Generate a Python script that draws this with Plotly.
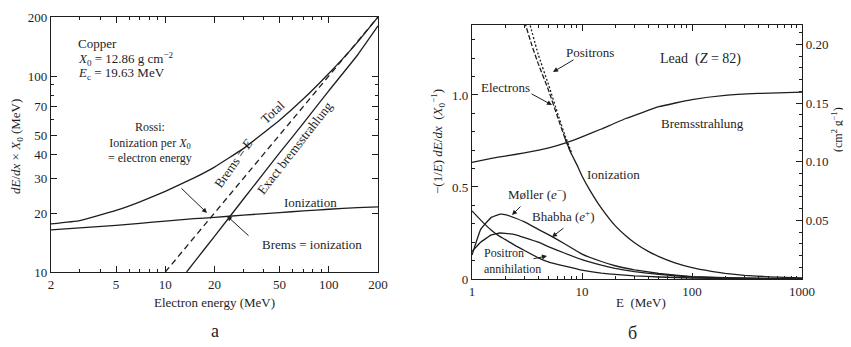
import plotly.graph_objects as go
import math

W, H = 851, 347
OFF = 8                     # page body margin of the browser
FW, FH = W - OFF, H - OFF   # figure size so that it fills the window exactly

# ---------------- Panel a: Copper ----------------
cu_energy = [2, 3, 5, 7, 10, 15, 20, 30, 50, 70, 100, 150, 200]
cu_ionization = [16.4, 16.8, 17.3, 17.7, 18.2, 18.7, 19.0, 19.5, 20.1, 20.5, 20.9, 21.3, 21.5]
cu_total = [17.6, 18.3, 20.6, 22.8, 25.8, 30.2, 34.3, 42.6, 59.5, 76.5, 103, 149, 200]
cu_exact_energy = [13.5, 15, 20, 30, 50, 70, 100, 150, 200]
cu_exact_brems = [10, 11.2, 15.2, 23.5, 40.5, 57.5, 84, 128, 180]
cu_bremsE_energy = [10, 200]
cu_bremsE = [10, 200]

cu_xticks = [2, 5, 10, 20, 50, 100, 200]
cu_yticks = [10, 20, 30, 40, 50, 70, 100, 200]

# ---------------- Panel б: Lead ----------------
pb_brems_energy = [1, 1.5, 2, 3, 5, 7, 10, 15, 25, 50, 100, 200, 400, 1000]
pb_brems = [0.634, 0.655, 0.668, 0.685, 0.712, 0.738, 0.772, 0.815, 0.872, 0.936, 0.975,
            0.998, 1.008, 1.015]

pb_ion_e_energy = [3.0, 3.5, 4, 5, 6, 7, 8]
pb_ion_e = [1.40, 1.27, 1.17, 1.02, 0.88, 0.765, 0.68]
pb_ion_p_energy = [3.3, 4, 5, 6, 7, 8]
pb_ion_p = [1.40, 1.22, 1.05, 0.90, 0.78, 0.69]

pb_ion_energy = [7, 8, 9, 10, 12, 15, 20, 25, 30, 40, 50, 70, 100, 150, 200, 300, 500, 700, 1000]
pb_ion = [0.765, 0.68, 0.62, 0.56, 0.475, 0.385, 0.29, 0.235, 0.197, 0.15, 0.122, 0.088,
          0.062, 0.042, 0.031, 0.02, 0.012, 0.0085, 0.006]

pb_low_energy = [1.0, 1.2, 1.5, 1.8, 2.0, 2.5, 3, 4, 5, 7, 10, 15, 20, 30, 50, 100, 200, 500, 1000]
pb_moller = [0.13, 0.27, 0.335, 0.352, 0.35, 0.33, 0.31, 0.27, 0.24, 0.19, 0.135, 0.095, 0.072,
             0.05, 0.03, 0.013, 0.007, 0.003, 0.0015]
pb_bhabha = [0.15, 0.2, 0.24, 0.25, 0.248, 0.24, 0.225, 0.2, 0.175, 0.14, 0.105, 0.075, 0.058,
             0.04, 0.025, 0.011, 0.006, 0.0025, 0.0012]
pb_annihil = [0.37, 0.32, 0.265, 0.23, 0.215, 0.18, 0.155, 0.115, 0.092, 0.07, 0.048, 0.032,
              0.025, 0.017, 0.011, 0.0055, 0.003, 0.0012, 0.0006]

pb_xticks = [1, 10, 100, 1000]
pb_yticks = [0, 0.5, 1.0]
pb_yticks_text = ["0", "0.5", "1.0"]
pb_y2ticks = [0.05, 0.10, 0.15, 0.20]
pb_y2ticks_text = ["0.05", "0.10", "0.15", "0.20"]
PB_X0 = 6.37  # g cm^-2, conversion between the two right-panel scales

# ---------------- styling ----------------
INK = "#1e1e1e"
FONT = "Times New Roman, Liberation Serif, DejaVu Serif, serif"
LW = 1.3


def paper(x, y):
    """page pixel position -> paper fraction of the figure"""
    return (x - OFF) / FW, 1 - (y - OFF) / FH


def log_minor(lo, hi, majors):
    vals = []
    d = 10 ** math.floor(math.log10(lo))
    while d <= hi:
        for k in range(1, 10):
            v = k * d
            if lo <= v <= hi and not any(abs(v - m) < 1e-9 for m in majors):
                vals.append(v)
        d *= 10
    return vals


fig = go.Figure()


def line(x, y, xa, ya, dash="solid", width=LW, color=INK):
    fig.add_trace(go.Scatter(x=x, y=y, xaxis=xa, yaxis=ya, mode="lines",
                             line=dict(color=color, width=width, dash=dash, shape="spline", smoothing=0.3),
                             showlegend=False, hoverinfo="skip"))


# Copper traces
line(cu_energy, cu_ionization, "x", "y")
line(cu_energy, cu_total, "x", "y")
line(cu_exact_energy, cu_exact_brems, "x", "y")
line(cu_bremsE_energy, cu_bremsE, "x", "y", dash="6px,4px")

# Lead traces
line(pb_brems_energy, pb_brems, "x2", "y2")
line(pb_ion_energy, pb_ion, "x2", "y2")
line(pb_ion_e_energy, pb_ion_e, "x2", "y2", dash="5px,2px")
line(pb_ion_p_energy, pb_ion_p, "x2", "y2", dash="2px,2px")
line(pb_low_energy, pb_moller, "x2", "y2")
line(pb_low_energy, pb_bhabha, "x2", "y2")
line(pb_low_energy, pb_annihil, "x2", "y2")

tickfont = dict(family=FONT, size=13, color=INK)
common = dict(showgrid=False, zeroline=False, showline=True, linecolor=INK, linewidth=1.2,
              ticks="inside", ticklen=6, tickcolor=INK, tickwidth=1, tickfont=tickfont,
              automargin=False)

L = dict(x0=51, x1=378, y0=17, y1=272)
R = dict(x0=472, x1=802, y0=25, y1=279)


def xdom(b):
    return [paper(b["x0"], 0)[0], paper(b["x1"], 0)[0]]


def ydom(b):
    return [paper(0, b["y1"])[1], paper(0, b["y0"])[1]]


fig.update_layout(
    width=FW, height=FH, margin=dict(l=0, r=0, t=0, b=0, pad=0), autosize=False,
    paper_bgcolor="white", plot_bgcolor="white",
    font=dict(family=FONT, color=INK),
    xaxis=dict(common, type="log", range=[math.log10(2), math.log10(200)],
               domain=xdom(L), anchor="y", mirror="ticks",
               tickvals=cu_xticks, ticktext=[str(v) for v in cu_xticks],
               minor=dict(ticks="inside", ticklen=3, tickcolor=INK,
                          tickvals=log_minor(2, 200, cu_xticks))),
    yaxis=dict(common, type="log", range=[1, math.log10(200)],
               domain=ydom(L), anchor="x", mirror="ticks",
               tickvals=cu_yticks, ticktext=[str(v) for v in cu_yticks],
               minor=dict(ticks="inside", ticklen=3, tickcolor=INK,
                          tickvals=log_minor(10, 200, cu_yticks))),
    xaxis2=dict(common, type="log", range=[0, 3],
                domain=xdom(R), anchor="y2", mirror="ticks",
                tickvals=pb_xticks, ticktext=[str(v) for v in pb_xticks],
                minor=dict(ticks="inside", ticklen=3, tickcolor=INK,
                           tickvals=log_minor(1, 1000, pb_xticks))),
    yaxis2=dict(common, range=[0, 1.38],
                domain=ydom(R), anchor="x2", mirror=False,
                tickvals=pb_yticks, ticktext=pb_yticks_text,
                minor=dict(ticks="inside", ticklen=3, tickcolor=INK, dtick=0.1, tick0=0)),
    yaxis3=dict(common, range=[0, 1.38 / PB_X0], overlaying="y2", side="right", anchor="x2",
                tickvals=pb_y2ticks, ticktext=pb_y2ticks_text,
                minor=dict(ticks="inside", ticklen=3, tickcolor=INK, dtick=0.01, tick0=0)),
)

# invisible trace to activate yaxis3
fig.add_trace(go.Scatter(x=[1], y=[0], xaxis="x2", yaxis="y3", mode="markers",
                         marker=dict(opacity=0), showlegend=False, hoverinfo="skip"))

ann = []


def text(t, x, y, size=12, angle=0, xanchor="center", align="center"):
    px, py = paper(x, y)
    ann.append(dict(text=t, x=px, y=py, xref="paper", yref="paper", showarrow=False,
                    textangle=angle, xanchor=xanchor, yanchor="middle", align=align,
                    font=dict(family=FONT, size=size, color=INK)))


def arrow(tail, head):
    hx, hy = paper(*head)
    ann.append(dict(text="", x=hx, y=hy, xref="paper", yref="paper", showarrow=True,
                    ax=tail[0] - head[0], ay=tail[1] - head[1], axref="pixel", ayref="pixel",
                    arrowhead=2, arrowsize=1, arrowwidth=1, arrowcolor=INK))


# Panel a texts
text("Copper", 76, 43, size=13, xanchor="left")
text("<i>X</i><sub>0</sub> = 12.86 g cm<sup>−2</sup>", 76, 59, size=13, xanchor="left")
text("<i>E</i><sub>c</sub> = 19.63 MeV", 76, 74, size=13, xanchor="left")
text("Rossi:<br>Ionization per <i>X</i><sub>0</sub><br>= electron energy", 150, 143, size=12)
text("Total", 272, 112, size=13, angle=-43)
text("Brems = <i>E</i>", 233, 163, size=13, angle=-55)
text("Exact bremsstrahlung", 294, 148, size=13, angle=-52)
text("Ionization", 310, 202, size=13)
text("Brems = ionization", 312, 244, size=13)
text("Electron energy (MeV)", 214, 302, size=13)
text("<i>dE</i>/<i>dx</i> × <i>X</i><sub>0</sub> (MeV)", 16, 147, size=13, angle=-90)
text("а", 215, 331, size=18)
arrow((180, 187), (207, 213))
arrow((250, 237), (227, 216))

# Panel б texts
text("Positrons", 590, 52, size=13)
text("Lead  (<i>Z</i> = 82)", 700, 59, size=14)
text("Electrons", 505, 87, size=13)
text("Bremsstrahlung", 702, 123, size=13)
text("Ionization", 613, 174, size=13)
text("Møller (<i>e</i><sup>−</sup>)", 537, 194, size=13)
text("Bhabha (<i>e</i><sup>+</sup>)", 563, 216, size=13)
text("Positron<br>annihilation", 482, 261, size=12, xanchor="left", align="left")
text("E  (MeV)", 641, 302, size=13)
text("−(1/<i>E</i>) <i>dE</i>/<i>dx</i>  (<i>X</i><sub>0</sub><sup>−1</sup>)", 438, 142, size=13, angle=-90)
text("(cm<sup>2</sup> g<sup>−1</sup>)", 838, 130, size=12, angle=-90)
text("б", 632, 333, size=18)
arrow((575, 59), (553, 72))
arrow((530, 93), (552, 105))
arrow((522, 205), (512, 215))
arrow((565, 227), (552, 237))
arrow((532, 259), (547, 256))

fig.update_layout(annotations=ann)
fig.write_html("out.html")
